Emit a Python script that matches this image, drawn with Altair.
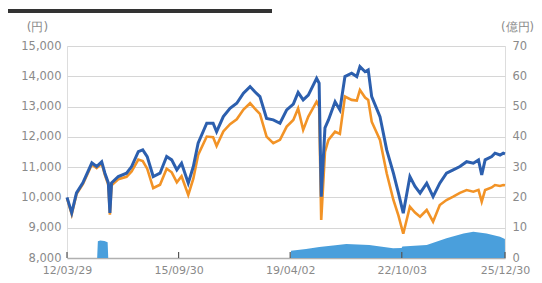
import altair as alt
import pandas as pd

# --- data ---
dates = [
    "2012-03-29", "2012-05-22", "2012-07-16", "2012-09-27", "2013-01-08", "2013-03-04",
    "2013-05-01", "2013-06-07", "2013-07-16", "2013-08-03", "2013-08-22", "2013-11-07",
    "2014-02-10", "2014-04-09", "2014-06-25", "2014-08-15", "2014-10-05", "2014-12-13",
    "2015-03-01", "2015-05-16", "2015-07-13", "2015-09-10", "2015-11-03", "2016-01-19",
    "2016-03-17", "2016-05-11", "2016-08-18", "2016-10-30", "2016-12-09", "2017-02-24",
    "2017-05-12", "2017-07-28", "2017-10-13", "2017-12-28", "2018-02-21", "2018-04-20",
    "2018-07-05", "2018-09-20", "2018-12-06", "2019-02-21", "2019-05-08", "2019-07-02",
    "2019-08-29", "2019-10-27", "2020-01-30", "2020-02-28", "2020-03-23", "2020-05-05",
    "2020-06-14", "2020-08-29", "2020-10-23", "2020-12-20", "2021-03-07", "2021-05-05",
    "2021-06-10", "2021-08-08", "2021-09-13", "2021-10-23", "2022-01-26", "2022-04-13",
    "2022-06-29", "2022-08-26", "2022-10-20", "2023-01-04", "2023-03-04", "2023-05-01",
    "2023-07-16", "2023-09-27", "2023-12-13", "2024-02-28", "2024-05-15", "2024-07-31",
    "2024-10-16", "2025-01-01", "2025-03-01", "2025-04-07", "2025-05-16", "2025-07-31",
    "2025-09-06", "2025-11-03", "2025-12-10", "2025-12-30",
]
nav_reinvested = [  # blue line (円)
    10000, 9490, 10150, 10480, 11140, 11020,
    11180, 10800, 10480, 9490, 10480, 10690,
    10800, 11020, 11510, 11570, 11350, 10690,
    10800, 11350, 11240, 10910, 11130, 10470,
    11020, 11790, 12450, 12450, 12170, 12670,
    12940, 13110, 13440, 13660, 13490, 13330,
    12610, 12560, 12450, 12890, 13080, 13470,
    13220, 13380, 13930, 13770, 10025, 12300,
    12560, 13160, 12890, 13990, 14100, 13990,
    14320, 14150, 14210, 13330, 12670, 11570,
    10800, 10140, 9480, 10690, 10360, 10140,
    10470, 10025, 10470, 10800, 10910, 11020,
    11180, 11130, 11240, 10740, 11240, 11350,
    11460, 11400, 11460, 11440,
]
nav = [  # orange line (円)
    9980, 9450, 10110, 10440, 11090, 10970,
    11120, 10740, 10420, 9430, 10400, 10600,
    10680, 10860, 11250, 11200, 10950, 10310,
    10420, 10950, 10830, 10500, 10700, 10080,
    10620, 11400, 12010, 11990, 11700, 12180,
    12420, 12580, 12900, 13110, 12930, 12760,
    12010, 11790, 11900, 12340, 12560, 12940,
    12230, 12670, 13160, 13000, 9255, 11500,
    11900, 12170, 12100, 13330, 13220, 13200,
    13550, 13300, 13220, 12500, 11900, 10800,
    9915, 9400, 8800, 9695, 9500, 9365,
    9585, 9200, 9750, 9915, 10025, 10150,
    10245, 10190, 10250, 9860, 10245, 10330,
    10410, 10380, 10410, 10400,
]

asset_dates = [
    "2012-03-29", "2013-03-10", "2013-03-18", "2013-04-15", "2013-06-01", "2013-07-08",
    "2013-07-15", "2019-04-05", "2019-04-12", "2019-10-01", "2020-03-01", "2020-09-01",
    "2021-01-05", "2021-09-25", "2022-06-25", "2022-10-01", "2022-10-10", "2023-07-16",
    "2024-02-28", "2024-09-10", "2025-01-01", "2025-06-01", "2025-11-03", "2025-12-10",
    "2025-12-29", "2025-12-30",
]
net_assets = [  # blue area (億円)
    0, 0, 5.5, 5.8, 5.6, 5.2,
    0, 0, 2.4, 3.0, 3.6, 4.2,
    4.6, 4.3, 3.2, 3.3, 3.8, 4.3,
    6.5, 8.1, 8.7, 8.1, 7.0, 6.5,
    6.3, 0,
]

tick_dates = ["2012-03-29", "2015-09-30", "2019-04-02", "2022-10-03", "2025-12-30"]
left_ticks = [8000, 9000, 10000, 11000, 12000, 13000, 14000, 15000]
right_ticks = [0, 10, 20, 30, 40, 50, 60, 70]

line_df = pd.DataFrame({"date": dates, "blue": nav_reinvested, "orange": nav})
area_df = pd.DataFrame({"date": asset_dates, "assets": net_assets})
tick_df = pd.DataFrame({"date": tick_dates})

FONT = "DejaVu Sans"
LABEL_COLOR = "#8a8a8a"

x_scale = alt.Scale(domain=["2012-03-29", "2025-12-30"])
x_axis = alt.Axis(
    values=tick_dates, format="%y/%m/%d", title=None, grid=False,
    labelFont=FONT, labelFontSize=11, labelColor=LABEL_COLOR,
    labelPadding=6, labelOverlap=False, labelFlush=False, labelBound=False,
    ticks=False, domainColor="#b0b0b0", domainWidth=1.5,
)

left_axis = alt.Axis(
    orient="left", values=left_ticks, format=",.0f", title="(円)",
    titleAngle=0, titleX=-30, titleY=-13, titleAlign="center", titleBaseline="bottom",
    titleFont=FONT, titleFontSize=12, titleFontWeight="normal", titleColor=LABEL_COLOR,
    labelFont=FONT, labelFontSize=11.5, labelColor=LABEL_COLOR, labelPadding=6,
    ticks=False, domain=False, grid=True, gridColor="#d6d6d6", gridWidth=1,
)
right_axis = alt.Axis(
    orient="right", values=right_ticks, format=".0f", title="(億円)",
    titleAngle=0, titleX=12, titleY=-14, titleAlign="center", titleBaseline="bottom",
    titleFont=FONT, titleFontSize=11.5, titleFontWeight="normal", titleColor=LABEL_COLOR,
    labelFont=FONT, labelFontSize=11.5, labelColor=LABEL_COLOR, labelPadding=7,
    ticks=False, domain=False, grid=False,
)

area = alt.Chart(area_df).mark_area(color="#4a9fdc", opacity=1).encode(
    x=alt.X("date:T", scale=x_scale, axis=x_axis),
    y=alt.Y("assets:Q", scale=alt.Scale(domain=[0, 70], nice=False), axis=right_axis),
)

base = alt.Chart(line_df).encode(x=alt.X("date:T", scale=x_scale, axis=x_axis))
orange = base.mark_line(color="#f29326", strokeWidth=2.6).encode(
    y=alt.Y("orange:Q", scale=alt.Scale(domain=[8000, 15000], nice=False, zero=False), axis=left_axis),
)
blue = base.mark_line(color="#2c5fae", strokeWidth=3).encode(
    y=alt.Y("blue:Q", scale=alt.Scale(domain=[8000, 15000], nice=False, zero=False), axis=left_axis),
)

ticks = alt.Chart(tick_df).mark_rule(color="#555555", strokeWidth=1.2).encode(
    x=alt.X("date:T", scale=x_scale, axis=x_axis),
    y=alt.value(206), y2=alt.value(212),
)

header = alt.Chart(tick_df.head(1)).mark_rule(color="#333333", strokeWidth=4).encode(
    x=alt.value(-59), x2=alt.value(205), y=alt.value(-35),
)

lines = alt.layer(orange, blue)
chart = alt.layer(area, lines, ticks, header).resolve_scale(y="independent").properties(
    width=438, height=212,
    autosize=alt.AutoSizeParams(type="none"),
    padding={"left": 59, "top": 38, "right": 29, "bottom": 17},
).configure_view(fill="#f1f1f1", stroke=None).configure(background="white")

chart.save("out.html", embed_options={"renderer": "svg", "actions": False})
